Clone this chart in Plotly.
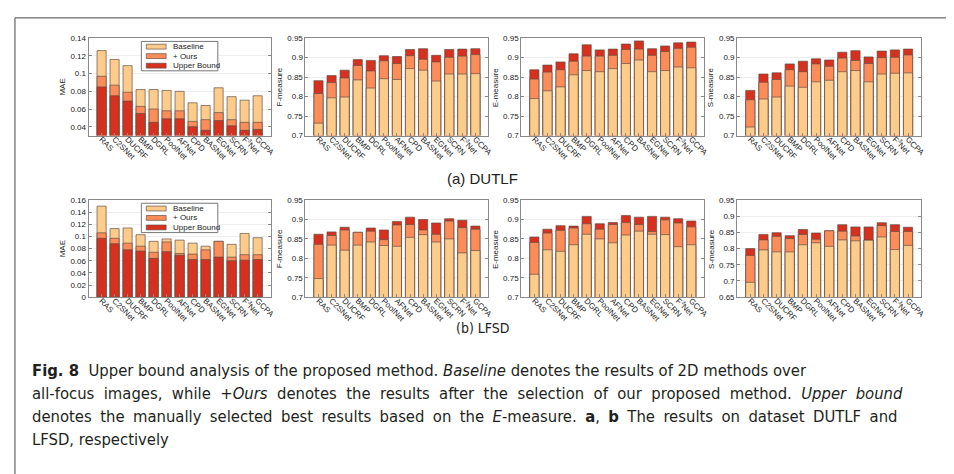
import plotly.graph_objects as go

W, H = 954, 474

methods = ["RAS", "C2SNet", "DUCRF", "BMP", "DGRL", "PoolNet", "AFNet", "CPD",
           "BASNet", "EGNet", "SCRN", "F<sup>3</sup>Net", "GCPA"]
series_names = ["Baseline", "+ Ours", "Upper Bound"]

# ---- DUTLF ----
dut_mae_base = [0.126, 0.116, 0.109, 0.082, 0.082, 0.081, 0.080, 0.067, 0.064, 0.084, 0.074, 0.070, 0.075]
dut_mae_ours = [0.097, 0.087, 0.079, 0.063, 0.060, 0.058, 0.058, 0.046, 0.048, 0.056, 0.048, 0.045, 0.045]
dut_mae_ub = [0.085, 0.075, 0.069, 0.055, 0.045, 0.049, 0.049, 0.040, 0.036, 0.047, 0.041, 0.036, 0.037]

dut_f_base = [0.732, 0.797, 0.799, 0.843, 0.822, 0.846, 0.844, 0.872, 0.868, 0.840, 0.858, 0.858, 0.859]
dut_f_ours = [0.808, 0.836, 0.848, 0.880, 0.866, 0.892, 0.885, 0.905, 0.896, 0.889, 0.901, 0.904, 0.908]
dut_f_ub = [0.841, 0.854, 0.868, 0.895, 0.893, 0.905, 0.903, 0.921, 0.923, 0.906, 0.921, 0.922, 0.923]

dut_e_base = [0.795, 0.815, 0.825, 0.856, 0.867, 0.864, 0.872, 0.885, 0.894, 0.864, 0.867, 0.876, 0.874]
dut_e_ours = [0.845, 0.863, 0.869, 0.891, 0.904, 0.904, 0.906, 0.921, 0.922, 0.906, 0.916, 0.924, 0.927]
dut_e_ub = [0.869, 0.881, 0.889, 0.910, 0.933, 0.920, 0.922, 0.935, 0.943, 0.923, 0.930, 0.938, 0.940]

dut_s_base = [0.722, 0.794, 0.799, 0.827, 0.824, 0.838, 0.842, 0.864, 0.867, 0.838, 0.858, 0.860, 0.861]
dut_s_ours = [0.792, 0.837, 0.844, 0.869, 0.864, 0.884, 0.878, 0.899, 0.893, 0.885, 0.900, 0.901, 0.907]
dut_s_ub = [0.816, 0.858, 0.861, 0.884, 0.891, 0.897, 0.894, 0.914, 0.918, 0.902, 0.917, 0.920, 0.922]

# ---- LFSD ----
lf_mae_base = [0.150, 0.113, 0.114, 0.103, 0.092, 0.096, 0.094, 0.089, 0.084, 0.092, 0.087, 0.105, 0.098]
lf_mae_ours = [0.106, 0.097, 0.089, 0.084, 0.074, 0.091, 0.072, 0.071, 0.078, 0.092, 0.066, 0.070, 0.070]
lf_mae_ub = [0.097, 0.088, 0.078, 0.076, 0.064, 0.075, 0.069, 0.062, 0.062, 0.066, 0.060, 0.061, 0.062]

lf_f_base = [0.748, 0.834, 0.821, 0.834, 0.842, 0.833, 0.831, 0.854, 0.861, 0.842, 0.850, 0.814, 0.820]
lf_f_ours = [0.836, 0.859, 0.873, 0.867, 0.870, 0.848, 0.886, 0.887, 0.873, 0.862, 0.896, 0.879, 0.875]
lf_f_ub = [0.862, 0.868, 0.880, 0.867, 0.878, 0.873, 0.895, 0.906, 0.900, 0.891, 0.902, 0.898, 0.883]

lf_e_base = [0.759, 0.822, 0.818, 0.835, 0.862, 0.850, 0.840, 0.860, 0.870, 0.862, 0.861, 0.830, 0.835]
lf_e_ours = [0.841, 0.865, 0.872, 0.878, 0.889, 0.875, 0.887, 0.892, 0.887, 0.869, 0.899, 0.891, 0.881]
lf_e_ub = [0.855, 0.875, 0.884, 0.883, 0.908, 0.889, 0.892, 0.910, 0.906, 0.908, 0.906, 0.902, 0.896]

lf_s_base = [0.696, 0.796, 0.790, 0.790, 0.812, 0.818, 0.807, 0.827, 0.824, 0.826, 0.836, 0.797, 0.810]
lf_s_ours = [0.779, 0.827, 0.838, 0.831, 0.844, 0.829, 0.855, 0.854, 0.839, 0.826, 0.871, 0.853, 0.853]
lf_s_ub = [0.800, 0.844, 0.849, 0.840, 0.859, 0.848, 0.855, 0.874, 0.867, 0.867, 0.880, 0.874, 0.866]

# axis tick values
mae_dut_ticks = [0.04, 0.06, 0.08, 0.1, 0.12, 0.14]
mae_lf_ticks = [0, 0.02, 0.04, 0.06, 0.08, 0.1, 0.12, 0.14, 0.16]
meas_ticks = [0.7, 0.75, 0.8, 0.85, 0.9, 0.95]
s_lf_ticks = [0.65, 0.7, 0.75, 0.8, 0.85, 0.9, 0.95]

COL_BASE = "#fdcc8a"
COL_OURS = "#fc8d59"
COL_UB = "#d7301f"
EDGE = "rgba(95,75,65,0.85)"
colors = {"Baseline": COL_BASE, "+ Ours": COL_OURS, "Upper Bound": COL_UB}

FONT = "Liberation Sans, Arial, sans-serif"
CAP_FONT = "Liberation Sans Narrow, DejaVu Sans Condensed, Open Sans, sans-serif"

# panel pixel geometry
col_px = [(81, 264), (299, 483), (516, 700), (733, 918)]
row_px = [(26.7, 126.0), (191.7, 290.7)]

panels = [
    (0, 0, "MAE", [0.03, 0.14], mae_dut_ticks, (dut_mae_base, dut_mae_ours, dut_mae_ub), True),
    (0, 1, "F-measure", [0.7, 0.95], meas_ticks, (dut_f_base, dut_f_ours, dut_f_ub), False),
    (0, 2, "E-measure", [0.7, 0.95], meas_ticks, (dut_e_base, dut_e_ours, dut_e_ub), False),
    (0, 3, "S-measure", [0.7, 0.95], meas_ticks, (dut_s_base, dut_s_ours, dut_s_ub), False),
    (1, 0, "MAE", [0, 0.16], mae_lf_ticks, (lf_mae_base, lf_mae_ours, lf_mae_ub), True),
    (1, 1, "F-measure", [0.7, 0.95], meas_ticks, (lf_f_base, lf_f_ours, lf_f_ub), False),
    (1, 2, "E-measure", [0.7, 0.95], meas_ticks, (lf_e_base, lf_e_ours, lf_e_ub), False),
    (1, 3, "S-measure", [0.65, 0.95], s_lf_ticks, (lf_s_base, lf_s_ours, lf_s_ub), False),
]


def fmt(v):
    s = ("%.2f" % v).rstrip("0").rstrip(".")
    return s if s else "0"


fig = go.Figure()
layout = dict(
    width=W, height=H, autosize=False,
    margin=dict(l=0, r=0, t=0, b=0),
    paper_bgcolor="white", plot_bgcolor="white",
    barmode="overlay", showlegend=False,
    font=dict(family=FONT, size=8, color="#222"),
)
shapes = []
annotations = []
xs = list(range(len(methods)))

for i, (r, c, ytitle, yr, ticks, vals, lower) in enumerate(panels):
    n = "" if i == 0 else str(i + 1)
    xa, ya = "x" + n, "y" + n
    x0, x1 = col_px[c]
    t0, t1 = row_px[r]
    dom_x = [x0 / W, x1 / W]
    dom_y = [1 - t1 / H, 1 - t0 / H]
    order = [0, 1, 2] if lower else [2, 1, 0]
    for k in order:
        name = series_names[k]
        fig.add_trace(go.Bar(
            x=xs, y=vals[k], name=name, width=0.7,
            marker=dict(color=colors[name], line=dict(color=EDGE, width=0.8)),
            xaxis=xa, yaxis=ya, hoverinfo="skip",
        ))
    layout["xaxis" + n] = dict(
        domain=dom_x, anchor=ya, range=[-1, 13],
        tickmode="array", tickvals=xs, ticktext=methods, tickangle=45,
        tickfont=dict(size=8, family=FONT, color="#222"),
        ticklabelstandoff=-5,
        showline=True, linecolor="#8a8a8a", linewidth=1, mirror=True,
        ticks="inside", ticklen=3, tickcolor="#8a8a8a",
        showgrid=False, zeroline=False, fixedrange=True,
    )
    layout["yaxis" + n] = dict(
        domain=dom_y, anchor=xa, range=yr,
        tickmode="array", tickvals=ticks, ticktext=[fmt(t) for t in ticks],
        tickfont=dict(size=8, family=FONT, color="#222"),
        showline=True, linecolor="#8a8a8a", linewidth=1, mirror="ticks",
        ticks="inside", ticklen=3, tickcolor="#8a8a8a",
        showgrid=True, gridcolor="#eeeeee", gridwidth=1,
        zeroline=False, fixedrange=True,
    )
    annotations.append(dict(
        text=ytitle, textangle=-90, xref="paper", yref="paper",
        x=(x0 - 26) / W, y=1 - (t0 + t1) / 2 / H, showarrow=False,
        xanchor="center", yanchor="middle",
        font=dict(size=8, family=FONT, color="#222"),
    ))
    if c == 0:
        xd, yd = xa + " domain", ya + " domain"
        shapes.append(dict(type="rect", xref=xd, yref=yd, x0=0.29, x1=0.71,
                           y0=0.665, y1=0.967, fillcolor="white",
                           line=dict(color="#777", width=1), layer="above"))
        for j, (name, yy) in enumerate(zip(series_names, [0.913, 0.816, 0.718])):
            shapes.append(dict(type="rect", xref=xd, yref=yd, x0=0.317, x1=0.426,
                               y0=yy - 0.025, y1=yy + 0.025, fillcolor=colors[name],
                               line=dict(color=EDGE, width=0.8), layer="above"))
            annotations.append(dict(text=name, xref=xd, yref=yd, x=0.453, y=yy,
                                    xanchor="left", yanchor="middle", showarrow=False,
                                    font=dict(size=8, family=FONT, color="#222")))

# sub-figure labels
annotations.append(dict(text="(a) DUTLF", xref="paper", yref="paper", x=477 / W,
                        y=1 - 170 / H, showarrow=False, xanchor="center", yanchor="middle",
                        font=dict(size=15, family=FONT, color="#222")))
annotations.append(dict(text="(b) LFSD", xref="paper", yref="paper", x=477 / W,
                        y=1 - 322 / H, showarrow=False, xanchor="center", yanchor="middle",
                        font=dict(size=14, family=CAP_FONT, color="#222")))

caption_lines = [
    "<b>Fig. 8</b>  Upper bound analysis of the proposed method. <i>Baseline</i> denotes the results of 2D methods over",
    "all-focus images, while <i>+Ours</i> denotes the results after the selection of our proposed method. <i>Upper bound</i>",
    "denotes the manually selected best results based on the <i>E</i>-measure. <b>a</b>, <b>b</b> The results on dataset DUTLF and",
    "LFSD, respectively",
]
# extra inter-word space per line (justified lines in the reference)
extra_space = ["", "\u00a0", "\u2005", ""]
cap_y = [365, 389, 412, 436]
for line, yy, ex in zip(caption_lines, cap_y, extra_space):
    txt = line.replace(" ", " " + ex) if ex else line
    annotations.append(dict(text=txt, xref="paper", yref="paper", x=22 / W,
                            y=1 - yy / H, showarrow=False, xanchor="left", yanchor="middle",
                            font=dict(size=16.5, family=CAP_FONT, color="#231f20")))

# outer frame
shapes.append(dict(type="rect", xref="paper", yref="paper", x0=7 / W, x1=1.02,
                   y0=1 - 472 / H, y1=1 - 6 / H, line=dict(color="#444", width=1),
                   fillcolor="rgba(0,0,0,0)", layer="above"))

layout["shapes"] = shapes
layout["annotations"] = annotations
fig.update_layout(**layout)
fig.write_html("out.html")
